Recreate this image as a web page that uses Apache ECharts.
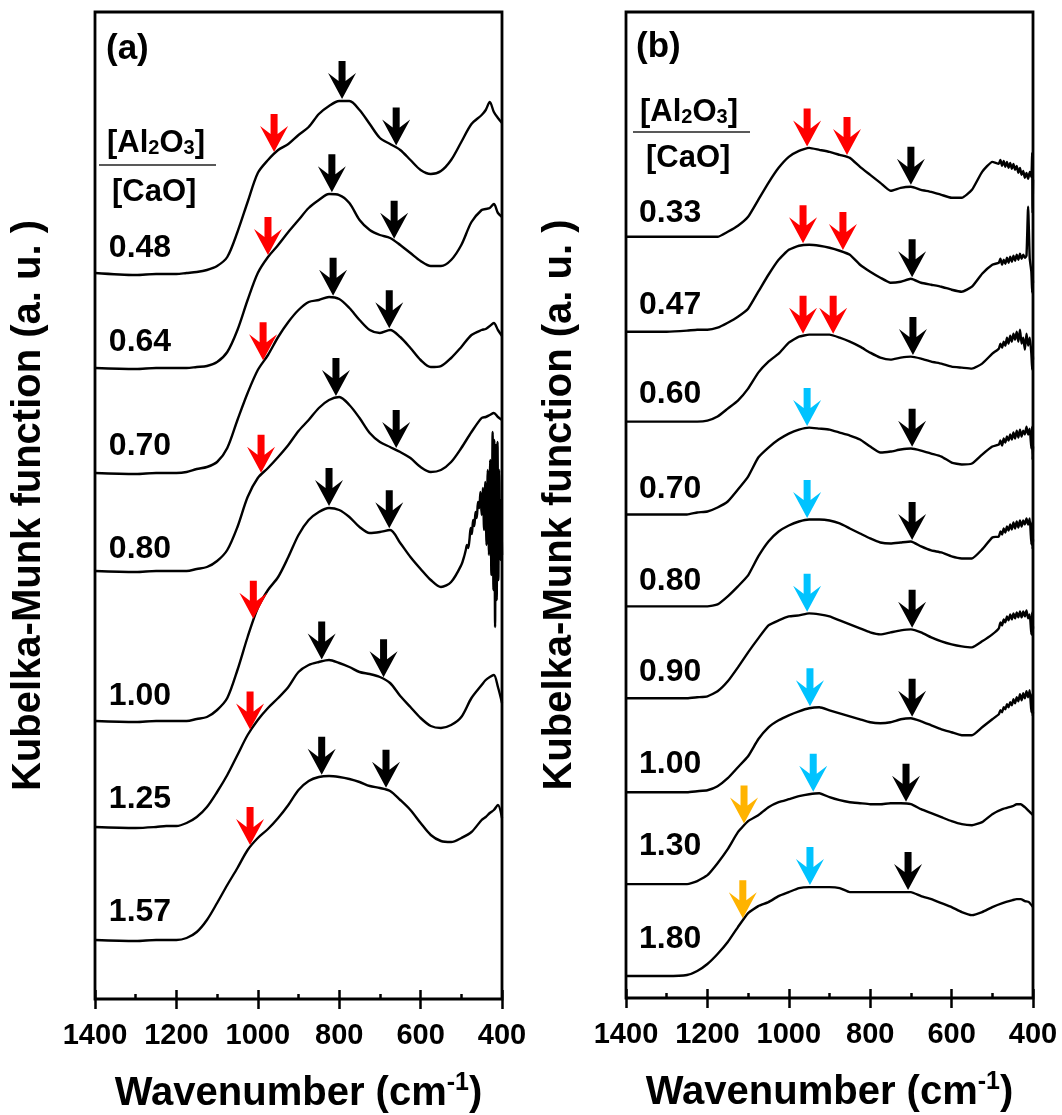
<!DOCTYPE html>
<html><head><meta charset="utf-8">
<script src="https://cdn.jsdelivr.net/npm/echarts@6/dist/echarts.min.js"></script>
<style>html,body{margin:0;padding:0;background:#fff}#c{width:1062px;height:1115px}</style>
</head><body><div id="c"></div>
<script>
// ---------- DATA ----------
// Wavenumbers (cm-1) at which every spectrum was read
const WN = [1400,1300,1250,1225,1200,1175,1150,1125,1100,1075,1050,1025,1000,975,950,925,900,875,850,825,800,775,750,725,700,675,650,625,600,575,550,525,500,475,450,440,430,420,410,400];
const X_TICKS = [1400,1200,1000,800,600,400];

// Panel (a): [Al2O3]/[CaO] ratios, vertical stacking offsets, KM intensities (a.u.)
const RATIOS_A = ['0.48','0.64','0.70','0.80','1.00','1.25','1.57'];
const OFFSET_A = [726,631,526,428,278,172,59];
const KM_A_048 = [0,-2,-1,-1,-1,0,1,3,7,16,41,71,100,113,123,129,138,146,159,167,172,172,163,149,135,129,123,113,103,99,102,113,131,149,158,163,171,161,155,150];
const KM_A_064 = [0,-1,0,0,0,0,1,2,6,16,38,68,95,111,123,136,148,160,168,174,173,165,148,138,133,130,123,115,107,102,102,108,123,146,158,159,160,164,155,151];
const KM_A_070 = [0,-1,0,0,0,1,4,6,11,25,53,80,103,118,136,151,163,171,173,176,174,165,153,143,140,143,136,125,113,106,107,115,126,138,143,144,147,150,143,137];
const KM_A_080 = [0,-1,0,0,0,0,2,4,10,21,44,74,93,103,114,126,140,151,163,171,174,166,153,138,129,124,119,113,104,99,101,109,123,139,153,154,156,158,154,151];
const KM_A_100 = [0,-1,0,0,0,0,2,4,11,23,51,84,113,131,144,164,186,201,209,213,211,204,194,188,189,191,178,164,152,141,134,139,156,190,224,220,230,200,240,166];
const KM_A_125 = [0,-1,0,1,1,4,10,20,35,52,72,92,107,119,129,140,155,162,165,167,164,160,155,153,150,144,131,120,109,101,99,102,110,129,142,147,150,152,140,124];
const KM_A_157 = [0,-1,0,0,0,2,8,20,37,55,72,90,102,111,122,135,150,159,163,164,163,161,158,154,152,149,140,130,117,105,99,98,102,108,120,123,127,130,135,122];
// noisy low-wavenumber end of the 1.00 spectrum in (a)
const NOISE_A_WN = [492,489,486,483,480,477,474,471,468,465,462,459,456,453,450,447,444,441,438,435,432,429,426,423,421,419,417,415,413,411,409,407,404,402,400];
const NOISE_A_100 = [166,171,176,173,181,193,187,201,195,209,203,219,213,229,206,233,191,239,176,251,166,261,146,289,131,281,94,276,121,279,141,251,161,221,166];

// Panel (b)
const RATIOS_B = ['0.33','0.47','0.60','0.70','0.80','0.90','1.00','1.30','1.80'];
const OFFSET_B = [762,667,577,484,392,300,206,114,22];
const KM_B_033 = [0,0,0,0,0,0,5,11,20,37,54,69,80,86,89,87,85,82,79,70,62,54,46,49,50,47,45,42,39,39,47,65,75,74,70,69,65,60,64,57];
const KM_B_047 = [0,0,1,2,2,4,9,15,23,40,57,72,82,86,87,86,84,81,77,67,60,54,49,50,53,49,47,45,42,40,45,58,67,69,70,72,74,75,72,49];
const KM_B_060 = [0,0,0,0,1,5,13,21,33,49,60,68,79,85,87,87,87,84,80,75,69,64,62,64,65,63,60,58,55,54,53,58,68,75,82,84,85,75,80,62];
const KM_B_070 = [0,0,0,2,3,7,13,25,38,57,67,75,81,85,87,86,85,82,79,75,68,62,63,65,66,64,61,58,52,50,51,60,68,72,74,77,78,80,83,68];
const KM_B_080 = [0,0,0,0,0,2,10,20,31,50,65,75,81,85,87,87,86,83,78,73,68,64,63,64,65,60,56,54,50,48,48,57,69,74,77,79,80,82,87,67];
const KM_B_090 = [0,0,0,1,2,7,17,31,46,60,73,78,82,83,85,84,82,78,74,70,66,64,66,68,69,66,61,57,54,52,51,57,64,74,80,82,82,83,81,72];
const KM_B_100 = [0,0,0,1,2,6,14,25,36,53,65,72,77,81,84,85,82,79,76,73,70,69,70,73,74,71,67,63,60,57,57,65,73,80,86,90,93,96,97,80];
const KM_B_130 = [0,0,0,3,9,21,35,52,63,69,77,82,85,88,90,91,87,84,82,81,80,80,81,81,80,75,71,67,63,60,59,62,70,75,78,80,80,77,73,69];
const KM_B_180 = [0,0,1,5,12,22,34,49,63,70,74,80,84,88,89,89,89,88,84,84,84,84,84,84,84,80,77,73,69,64,61,64,69,73,76,77,77,75,74,69];
// noisy low-wavenumber ends in (b)
const NOISE_B_WN = [484,480,476,472,468,464,460,456,452,448,444,440,436,432,428,424,420,416,412,408,404,402,401,400];
const NOISE_B_033 = [73,77,71,76,70,75,69,74,68,73,67,71,64,69,62,66,59,64,58,65,60,84,24,57];
const NOISE_B_047 = [69,73,67,72,68,74,69,75,70,76,71,77,72,78,73,77,74,76,125,73,60,39,59,49];
const NOISE_B_060 = [73,78,74,80,76,84,78,86,80,88,82,90,80,92,78,84,72,88,76,84,68,52,75,62];
const NOISE_B_070 = [70,74,69,76,72,78,74,80,75,82,76,84,77,85,78,84,80,88,80,86,66,88,55,68];
const NOISE_B_080 = [70,75,72,78,74,80,76,82,77,84,78,85,79,86,80,86,82,88,82,88,62,84,57,67];
const NOISE_B_090 = [70,76,73,79,76,82,78,84,79,85,80,86,81,87,81,87,82,88,80,84,64,86,62,72];
const NOISE_B_100 = [78,82,80,85,83,88,85,90,87,93,89,95,91,98,92,99,94,101,95,102,80,98,76,80];

// Arrow annotations: [spectrum index, wavenumber, colour key]
const ARROWS_A = [[0,960,'r'],[0,793,'k'],[0,660,'k'],[1,975,'r'],[1,818,'k'],[1,665,'k'],[2,987,'r'],[2,815,'k'],[2,677,'k'],[3,992,'r'],[3,808,'k'],[3,660,'k'],[4,1011,'r'],[4,825,'k'],[4,677,'k'],[5,1019,'r'],[5,843,'k'],[5,691,'k'],[6,1019,'r'],[6,843,'k'],[6,685,'k']];
const ARROWS_B = [[0,955,'r'],[0,857,'r'],[0,700,'k'],[1,965,'r'],[1,867,'r'],[1,697,'k'],[2,965,'r'],[2,891,'r'],[2,695,'k'],[3,955,'c'],[3,697,'k'],[4,955,'c'],[4,697,'k'],[5,955,'c'],[5,697,'k'],[6,948,'c'],[6,697,'k'],[7,1110,'o'],[7,940,'c'],[7,712,'k'],[8,1113,'o'],[8,948,'c'],[8,707,'k']];

// ---------- LAYOUT / STYLE ----------
const FONT = '"Liberation Sans", Arial, Helvetica, sans-serif';
const COLORS = {r:'#ff0000', k:'#000000', c:'#00c3ff', o:'#ffb300'};
const ARROW_PATH = 'path://M10.5,0 L17.5,0 L17.5,20 L28,12 L14,38 L0,12 L10.5,20 Z';
const ARROW_GAP = 2;
const GRIDS = [{left:95, top:12, width:407, height:987},{left:626, top:12, width:407, height:986}];
const LABEL_LIFT_A = [25,26,27,22,25,28,28];
const LABEL_LIFT_B = [24,27,27,25,25,26,28,38,37];

const PANELS = [
  {curves:[KM_A_048,KM_A_064,KM_A_070,KM_A_080,KM_A_100,KM_A_125,KM_A_157], ratios:RATIOS_A, offsets:OFFSET_A,
   noise:{4:[NOISE_A_WN,NOISE_A_100]}, arrows:ARROWS_A, lift:LABEL_LIFT_A, labelWn:1366, smooth:0.3},
  {curves:[KM_B_033,KM_B_047,KM_B_060,KM_B_070,KM_B_080,KM_B_090,KM_B_100,KM_B_130,KM_B_180], ratios:RATIOS_B, offsets:OFFSET_B,
   noise:{0:[NOISE_B_WN,NOISE_B_033],1:[NOISE_B_WN,NOISE_B_047],2:[NOISE_B_WN,NOISE_B_060],3:[NOISE_B_WN,NOISE_B_070],4:[NOISE_B_WN,NOISE_B_080],5:[NOISE_B_WN,NOISE_B_090],6:[NOISE_B_WN,NOISE_B_100]},
   arrows:ARROWS_B, lift:LABEL_LIFT_B, labelWn:1368, smooth:0.15}
];

function buildPoints(km, offset, noise){
  const pts = [];
  const cut = noise ? noise[0][0] : -Infinity;
  for (let i=0;i<WN.length;i++) if (WN[i] > cut) pts.push([WN[i], offset + km[i]]);
  if (noise) for (let j=0;j<noise[0].length;j++) pts.push([noise[0][j], offset + noise[1][j]]);
  return pts;
}
function interp(km, w){
  for (let i=0;i<WN.length-1;i++){
    if (WN[i] >= w && WN[i+1] <= w){
      const t = (WN[i]-w)/(WN[i]-WN[i+1]);
      return km[i] + t*(km[i+1]-km[i]);
    }
  }
  return km[km.length-1];
}

const series = [];
PANELS.forEach((p, gi) => {
  p.curves.forEach((km, ci) => {
    series.push({type:'line', xAxisIndex:2*gi, yAxisIndex:gi, data:buildPoints(km, p.offsets[ci], p.noise[ci]),
      symbol:'none', smooth:p.smooth, lineStyle:{color:'#000', width:2.4, opacity:1}, z:3, silent:true});
  });
  series.push({type:'scatter', xAxisIndex:2*gi, yAxisIndex:gi, symbol:ARROW_PATH, symbolSize:[28,38], symbolOffset:[0,'-50%'], z:5, silent:true,
    data:p.arrows.map(([ci,w,c]) => ({value:[w, p.offsets[ci] + interp(p.curves[ci], w) + ARROW_GAP], itemStyle:{color:COLORS[c], opacity:1}}))});
  series.push({type:'scatter', xAxisIndex:2*gi, yAxisIndex:gi, symbolSize:0, z:6, silent:true, itemStyle:{opacity:1},
    data:p.ratios.map((r,i) => ({name:r, value:[p.labelWn, p.offsets[i] + p.lift[i]]})),
    label:{show:true, position:'right', distance:0, formatter:'{b}', color:'#000', opacity:1, fontSize:32, fontWeight:'bold', fontFamily:FONT}});
});

const xAxes = [];
[0,1].forEach(gi => {
  xAxes.push({gridIndex:gi, type:'value', min:X_TICKS[X_TICKS.length-1], max:X_TICKS[0], interval:200, inverse:true, position:'bottom',
    axisLine:{show:false}, splitLine:{show:false},
    axisTick:{show:true, inside:false, length:10, lineStyle:{color:'#000', width:2.5}},
    axisLabel:{show:true, color:'#000', fontSize:29, fontWeight:'bold', fontFamily:FONT, margin:22, formatter:(v)=>String(v)},
    name:'Wavenumber (cm{p|-1})', nameLocation:'middle', nameGap:72,
    nameTextStyle:{color:'#000', fontSize:40, fontWeight:'bold', fontFamily:FONT, lineHeight:46,
      rich:{p:{fontSize:25, fontWeight:'bold', fontFamily:FONT, color:'#000', verticalAlign:'top', lineHeight:27}}}});
  xAxes.push({gridIndex:gi, type:'value', min:X_TICKS[X_TICKS.length-1], max:X_TICKS[0], interval:200, inverse:true, position:'bottom',
    axisLine:{show:false}, axisLabel:{show:false}, splitLine:{show:false},
    axisTick:{show:true, inside:true, length:9, lineStyle:{color:'#000', width:2.5}},
    minorTick:{show:true, splitNumber:2, length:5, lineStyle:{color:'#000', width:2.5}}});
});

const yAxes = [0,1].map(gi => ({gridIndex:gi, type:'value', min:0, max:987,
  axisLine:{show:false}, axisTick:{show:false}, axisLabel:{show:false}, splitLine:{show:false},
  name:'Kubelka-Munk function (a. u. )', nameLocation:'middle', nameRotate:90, nameGap:46,
  nameTextStyle:{color:'#000', fontSize:40, fontWeight:'bold', fontFamily:FONT}}));

function fracGraphics(x, yNum, lineX1, lineX2, lineY, xDen, yDen){
  return [
    {type:'text', x:x, y:yNum, style:{text:'[Al{s|2}O{s|3}]', fill:'#000', fontSize:31, fontWeight:'bold', fontFamily:FONT, verticalAlign:'middle',
      rich:{s:{fontSize:20, fontWeight:'bold', fontFamily:FONT, fill:'#000', verticalAlign:'bottom'}}}},
    {type:'line', shape:{x1:lineX1, y1:lineY, x2:lineX2, y2:lineY}, style:{stroke:'#222', lineWidth:1.5}},
    {type:'text', x:xDen, y:yDen, style:{text:'[CaO]', fill:'#000', fontSize:31, fontWeight:'bold', fontFamily:FONT, verticalAlign:'middle'}}
  ];
}

const option = {
  animation:false,
  backgroundColor:'#fff',
  grid: GRIDS.map(g => Object.assign({}, g, {show:true, borderColor:'#000', borderWidth:2.8, backgroundColor:'transparent', containLabel:false, outerBoundsMode:'none'})),
  xAxis: xAxes,
  yAxis: yAxes,
  series: series,
  graphic: [
    {type:'text', x:106, y:49, style:{text:'(a)', fill:'#000', fontSize:35, fontWeight:'bold', fontFamily:FONT, verticalAlign:'middle'}},
    {type:'text', x:636, y:47, style:{text:'(b)', fill:'#000', fontSize:35, fontWeight:'bold', fontFamily:FONT, verticalAlign:'middle'}},
    ...fracGraphics(107, 143, 99, 216, 165, 112, 192),
    ...fracGraphics(640, 112, 633, 750, 132, 646, 158)
  ]
};

const chart = echarts.init(document.getElementById('c'), null, {renderer:'canvas'});
chart.setOption(option);
</script>
</body></html>
